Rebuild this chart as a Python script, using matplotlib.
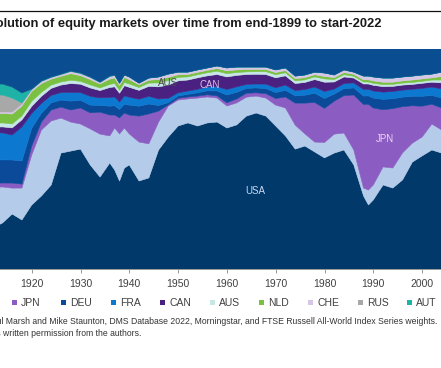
import matplotlib
matplotlib.use("Agg")
import matplotlib.pyplot as plt
import numpy as np
from matplotlib.patches import Rectangle

plt.rcParams['font.family'] = ['Liberation Sans', 'DejaVu Sans']

years = [1912, 1914, 1916, 1918, 1920, 1922, 1924, 1926, 1928, 1930,
         1932, 1934, 1936, 1937, 1938, 1939, 1940, 1942, 1944, 1946,
         1948, 1950, 1952, 1954, 1956, 1958, 1960, 1962, 1964, 1966,
         1968, 1970, 1972, 1974, 1976, 1978, 1980, 1982, 1984, 1986,
         1988, 1989, 1990, 1992, 1994, 1996, 1998, 2000, 2002, 2004, 2006]

# share of world equity market (%)
usa = [18.6, 20.9, 25.0, 22.3, 29.1, 33.2, 38.2, 52.7, 53.6, 54.5,
       47.3, 41.8, 48.2, 45.0, 40.0, 45.9, 47.3, 40.0, 41.4, 54.1,
       60.0, 65.0, 66.4, 65.0, 66.4, 66.8, 64.1, 65.5, 69.5, 70.9,
       69.5, 65.0, 60.5, 54.5, 55.9, 53.2, 50.5, 52.7, 54.1, 47.3,
       33.2, 29.1, 31.4, 38.2, 36.8, 40.5, 48.6, 51.4, 54.1, 52.7, 52.7]
uk = [18.2, 16.4, 11.8, 14.5, 22.7, 30.0, 29.1, 15.9, 13.2, 11.4,
      16.4, 19.5, 12.3, 19.1, 21.4, 18.2, 14.1, 17.7, 15.5, 12.7,
      14.1, 11.8, 10.9, 12.7, 11.8, 10.9, 10.0, 10.0, 8.6, 7.7,
      8.2, 9.5, 12.7, 10.9, 5.5, 4.5, 7.0, 8.6, 7.7, 6.8,
      3.6, 6.8, 6.8, 8.2, 9.1, 12.3, 8.6, 8.6, 11.8, 10.5, 10.5]
jpn = [1.8, 1.8, 2.3, 1.8, 4.1, 3.6, 5.0, 5.0, 5.5, 7.3,
       7.3, 10.0, 9.5, 5.9, 7.3, 6.8, 8.6, 11.8, 13.6, 5.0,
       0.5, 0.8, 0.9, 0.9, 1.0, 1.0, 1.5, 1.8, 1.8, 1.5,
       2.0, 3.0, 5.0, 10.0, 14.0, 18.0, 15.5, 15.0, 17.0, 25.0,
       38.0, 39.0, 35.0, 26.0, 27.0, 21.0, 17.0, 14.0, 9.0, 10.0, 10.0]
deu = [10.5, 10.5, 10.5, 10.5, 8.0, 4.0, 3.2, 3.2, 4.0, 3.5,
       3.5, 3.0, 4.0, 4.2, 3.8, 4.0, 4.5, 4.5, 4.5, 2.5,
       1.0, 1.0, 1.2, 1.5, 1.8, 2.2, 3.5, 3.0, 2.2, 2.2,
       2.3, 2.7, 3.0, 3.3, 3.6, 4.2, 4.5, 3.2, 3.2, 3.2,
       3.8, 3.8, 4.5, 4.7, 4.5, 4.3, 4.3, 4.5, 4.0, 4.5, 4.5]
fra = [12.3, 12.3, 11.4, 15.5, 6.8, 4.5, 3.4, 3.4, 4.0, 3.5,
       4.0, 3.5, 4.0, 4.0, 3.4, 3.8, 3.6, 3.2, 3.5, 3.0,
       2.0, 1.5, 1.5, 1.6, 1.8, 2.0, 2.5, 2.5, 1.8, 1.8,
       2.0, 2.2, 2.4, 2.4, 2.6, 2.8, 3.2, 2.3, 2.3, 2.3,
       3.0, 3.0, 3.2, 3.3, 3.3, 3.2, 3.2, 3.6, 3.8, 4.2, 4.2]
can = [2.7, 2.7, 3.2, 3.2, 3.2, 3.2, 3.2, 3.4, 4.0, 3.8,
       3.8, 3.3, 4.5, 4.6, 4.0, 4.6, 4.5, 4.0, 4.5, 5.5,
       6.0, 5.4, 5.0, 5.2, 5.0, 5.5, 5.7, 5.2, 4.5, 4.4,
       4.4, 4.5, 4.2, 3.2, 3.2, 3.4, 4.2, 3.2, 3.0, 2.2,
       2.5, 2.4, 2.6, 2.5, 2.3, 2.3, 2.2, 2.3, 2.2, 2.7, 2.7]
aus = [1.8, 1.8, 1.8, 1.8, 2.3, 1.8, 1.5, 1.4, 1.5, 1.3,
       1.4, 1.2, 1.4, 1.5, 1.3, 1.5, 1.5, 1.3, 1.5, 1.8,
       2.0, 1.6, 1.4, 1.4, 1.4, 1.5, 1.5, 1.3, 1.2, 1.2,
       1.3, 1.4, 1.4, 1.2, 1.2, 1.2, 1.5, 1.1, 1.0, 0.8,
       0.9, 0.9, 0.9, 0.9, 0.9, 0.9, 0.9, 0.9, 1.0, 1.3, 1.3]
nld = [4.3, 4.3, 4.5, 4.5, 4.5, 4.0, 2.7, 2.6, 3.0, 2.6,
       2.4, 1.8, 2.4, 2.5, 2.2, 2.3, 2.0, 1.2, 1.3, 1.5,
       1.5, 1.2, 1.1, 1.1, 1.1, 1.2, 1.3, 1.2, 1.1, 1.0,
       1.0, 1.0, 1.0, 1.0, 1.0, 1.0, 1.1, 0.9, 1.0, 0.9,
       1.0, 1.0, 1.1, 1.1, 1.0, 1.0, 1.1, 1.1, 1.0, 1.6, 1.6]
che = [0.7, 0.7, 0.9, 0.9, 0.9, 1.0, 0.8, 0.8, 1.0, 1.0,
       1.0, 0.7, 1.2, 1.2, 1.0, 1.1, 1.2, 0.8, 1.0, 1.2,
       1.5, 1.2, 1.1, 1.1, 1.1, 1.2, 1.3, 1.3, 1.1, 1.1,
       1.1, 1.2, 1.2, 1.2, 1.2, 1.2, 1.6, 1.2, 1.2, 1.0,
       1.7, 1.7, 1.8, 1.9, 1.9, 1.8, 1.8, 1.8, 1.7, 2.0, 2.0]
rus = [7.7, 7.7, 6.4, 0.5] + [0.0] * 47
aut = [5.0, 5.0, 5.0, 4.5, 0.2, 0.2, 0.2, 0.2, 0.2, 0.2,
       0.2, 0.2, 0.2, 0.2, 0.1] + [0.0] * 36
other = [15.9, 15.9, 17.3, 20.0, 18.2, 14.5, 12.7, 11.4, 10.0, 10.9,
         12.7, 15.0, 12.3, 11.8, 15.5, 11.8, 12.7, 15.5, 13.2, 12.7,
         11.4, 10.5, 10.5, 9.5, 8.6, 7.7, 8.6, 8.2, 8.2, 8.2,
         8.2, 9.5, 8.6, 12.3, 11.8, 10.5, 10.9, 11.8, 9.5, 10.5,
         12.3, 12.3, 12.7, 13.2, 13.2, 12.7, 12.3, 11.8, 11.4, 10.5, 10.5]

names = ['USA', 'UK', 'JPN', 'DEU', 'FRA', 'CAN', 'AUS', 'NLD', 'CHE', 'RUS', 'AUT', 'Other']
colors = ['#01396b', '#b4cbe9', '#8b5cc2', '#0a4a99', '#0d78cf', '#4a2180',
          '#c6e7e6', '#7ac142', '#d8c6e8', '#a8a8a8', '#1fb2a6', '#0b4d91']

shares = np.array([usa, uk, jpn, deu, fra, can, aus, nld, che, rus, aut, other])
shares = shares / shares.sum(axis=0) * 100

W, H = 441, 368
fig = plt.figure(figsize=(W / 100, H / 100), dpi=100)

# axes run past both figure edges (the picture is a crop)
x0, x1 = 1900, 2022
px_per_year = 4.88
left_px = (x0 - 1913.5) * px_per_year
width_px = (x1 - x0) * px_per_year
top_px, bottom_px = 49, 269
ax = fig.add_axes([left_px / W, (H - bottom_px) / H, width_px / W, (bottom_px - top_px) / H])

polys = ax.stackplot(years, shares, colors=colors)
for p in polys:
    p.set_edgecolor(p.get_facecolor())
    p.set_linewidth(0.4)

ax.set_xlim(x0, x1)
ax.set_ylim(0, 100)
ax.set_xticks(np.arange(1920, 2010, 10))
ax.tick_params(axis='x', length=3, width=0.6, color='#888888', pad=4,
               labelsize=7.5, labelcolor='#404040')
ax.set_yticks([])
for s in ['top', 'left', 'right']:
    ax.spines[s].set_visible(False)
ax.spines['bottom'].set_color('#888888')
ax.spines['bottom'].set_linewidth(0.6)

ax.text(1965.8, 35.5, 'USA', color='#c8d8f0', fontsize=7, ha='center', va='center')
ax.text(1947.9, 84.5, 'AUS', color='#4d4d4d', fontsize=7, ha='center', va='center')
ax.text(1956.5, 83.6, 'CAN', color='#dcc0ea', fontsize=7, ha='center', va='center')
ax.text(1992.4, 59.0, 'JPN', color='#f0d6f0', fontsize=7, ha='center', va='center')

# title and rule
fig.add_artist(plt.Line2D([0, 1], [1 - 11 / H, 1 - 11 / H], color='#111111', lw=0.9))
fig.text(381 / W, 1 - 24 / H, 'Evolution of equity markets over time from end-1899 to start-2022',
         ha='right', va='center', fontsize=9.3, fontweight='bold', color='#1a1a1a')

# legend (entries left of JPN fall outside the crop)
leg_names = ['JPN', 'DEU', 'FRA', 'CAN', 'AUS', 'NLD', 'CHE', 'RUS', 'AUT']
leg_colors = colors[2:11]
leg_y = 1 - 302.5 / H
for i, name in enumerate(leg_names):
    sq_x = 12 + i * 49.4
    fig.add_artist(Rectangle((sq_x / W, leg_y - 2.5 / H), 5 / W, 5 / H,
                             transform=fig.transFigure, color=leg_colors[i], lw=0))
    fig.text((sq_x + 9) / W, leg_y, name, ha='left', va='center',
             fontsize=7.5, color='#404040')

fig.text(-14.5 / W, 1 - 322 / H,
         'Paul Marsh and Mike Staunton, DMS Database 2022, Morningstar, and FTSE Russell All-World Index Series weights.',
         ha='left', va='center', fontsize=6.2, color='#333333')
fig.text(141 / W, 1 - 333 / H,
         'Not to be reproduced without express written permission from the authors.',
         ha='right', va='center', fontsize=6.2, color='#333333')

fig.savefig('out.png', dpi=100)
